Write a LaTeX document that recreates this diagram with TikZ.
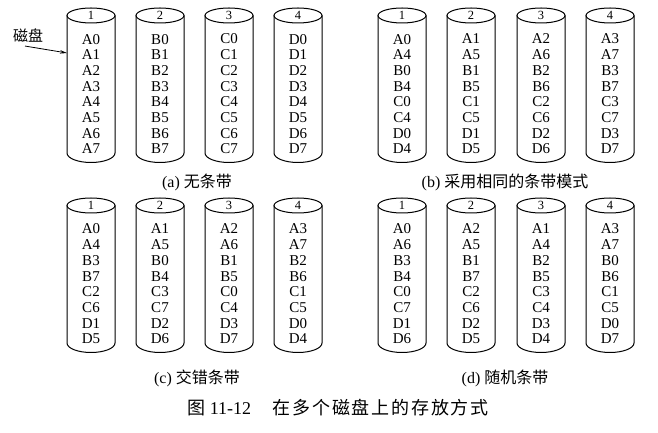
\documentclass[tikz,border=0pt]{standalone}
\usepackage{fontspec}
\setmainfont{Liberation Serif}
\newfontfamily\cjk{Noto Sans CJK SC}
\newfontfamily\cjkwide[LetterSpace=10]{Noto Sans CJK SC}
\usetikzlibrary{arrows.meta,positioning}
\tikzset{
  disk/.style={draw=black, line width=1pt},
  disknum/.style={font=\fontsize{12.5}{12.5}\selectfont, inner sep=0pt},
  blocks/.style={font=\fontsize{15}{15.7}\selectfont, align=center, inner sep=0pt},
  subcap/.style={font=\fontsize{16}{16}\selectfont, inner sep=1pt},
  pointer/.style={line width=0.8pt, -{Stealth[length=7pt,width=3.5pt]}},
}

\begin{document}
\begin{tikzpicture}[x=1pt, y=1pt]
  \useasboundingbox (0,0) rectangle (658,433);

  % (a) no striping
  \foreach \n/\cx/\rows in {1/91/{A0\\A1\\A2\\A3\\A4\\A5\\A6\\A7},
                            2/160/{B0\\B1\\B2\\B3\\B4\\B5\\B6\\B7},
                            3/229/{C0\\C1\\C2\\C3\\C4\\C5\\C6\\C7},
                            4/298/{D0\\D1\\D2\\D3\\D4\\D5\\D6\\D7}}{
    \draw[disk] (\cx,417.5) ellipse (24 and 7.5);
    \draw[disk] (\cx-24,417.5) -- (\cx-24,280) arc (180:360:24 and 9.5) -- (\cx+24,417.5);
    \node[disknum] (a\n-num) at (\cx,417.5) {\n};
    \node[blocks] (a\n) at (\cx,339) {\rows};
  }
  \node[subcap] (capa) at (197,251) {(a) {\cjk 无条带}};

  % Disk label
  \node[font=\cjk\fontsize{15}{15}\selectfont, inner sep=1pt] (disklabel) at (28,397) {磁盘};
  \coordinate (diskedge) at (67,380);
  \draw[pointer] ([xshift=-3pt,yshift=-2pt]disklabel.south) -- (diskedge);

  % (b) same striping pattern
  \foreach \n/\cx/\rows in {1/402/{A0\\A4\\B0\\B4\\C0\\C4\\D0\\D4},
                            2/471/{A1\\A5\\B1\\B5\\C1\\C5\\D1\\D5},
                            3/541/{A2\\A6\\B2\\B6\\C2\\C6\\D2\\D6},
                            4/610/{A3\\A7\\B3\\B7\\C3\\C7\\D3\\D7}}{
    \draw[disk] (\cx,417.5) ellipse (24 and 7.5);
    \draw[disk] (\cx-24,417.5) -- (\cx-24,280) arc (180:360:24 and 9.5) -- (\cx+24,417.5);
    \node[disknum] (b\n-num) at (\cx,417.5) {\n};
    \node[blocks] (b\n) at (\cx,339) {\rows};
  }
  \node[subcap] (capb) at (505,251) {(b) {\cjk 采用相同的条带模式}};

  % (c) interleaved striping
  \foreach \n/\cx/\rows in {1/91/{A0\\A4\\B3\\B7\\C2\\C6\\D1\\D5},
                            2/160/{A1\\A5\\B0\\B4\\C3\\C7\\D2\\D6},
                            3/229/{A2\\A6\\B1\\B5\\C0\\C4\\D3\\D7},
                            4/298/{A3\\A7\\B2\\B6\\C1\\C5\\D0\\D4}}{
    \draw[disk] (\cx,227.5) ellipse (24 and 7.5);
    \draw[disk] (\cx-24,227.5) -- (\cx-24,90) arc (180:360:24 and 9.5) -- (\cx+24,227.5);
    \node[disknum] (c\n-num) at (\cx,227.5) {\n};
    \node[blocks] (c\n) at (\cx,149) {\rows};
  }
  \node[subcap] (capc) at (197,55) {(c) {\cjk 交错条带}};

  % (d) random striping
  \foreach \n/\cx/\rows in {1/402/{A0\\A6\\B3\\B4\\C0\\C7\\D1\\D6},
                            2/471/{A2\\A5\\B1\\B7\\C2\\C6\\D2\\D5},
                            3/541/{A1\\A4\\B2\\B5\\C3\\C4\\D3\\D4},
                            4/610/{A3\\A7\\B0\\B6\\C1\\C5\\D0\\D7}}{
    \draw[disk] (\cx,227.5) ellipse (24 and 7.5);
    \draw[disk] (\cx-24,227.5) -- (\cx-24,90) arc (180:360:24 and 9.5) -- (\cx+24,227.5);
    \node[disknum] (d\n-num) at (\cx,227.5) {\n};
    \node[blocks] (d\n) at (\cx,149) {\rows};
  }
  \node[subcap] (capd) at (505,55) {(d) {\cjk 随机条带}};

  % Figure caption
  \node[font=\fontsize{18}{18}\selectfont] (figcap) at (338,25)
        {{\cjk 图} 11-12\hspace{1.2em}{\cjkwide 在多个磁盘上的存放方式}};
\end{tikzpicture}
\end{document}
